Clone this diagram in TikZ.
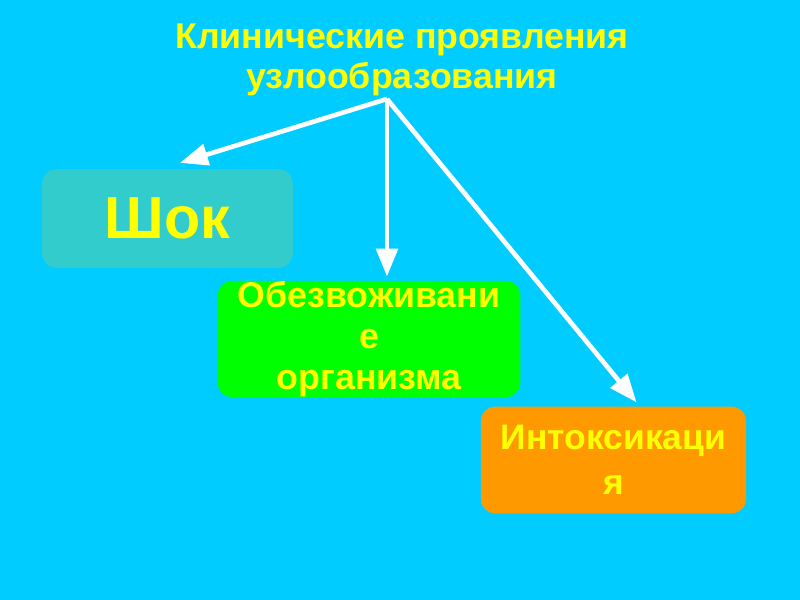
\documentclass[tikz,border=0pt]{standalone}
\usepackage{fontspec}
\setmainfont{Liberation Sans}
\usepackage{xcolor}
\usetikzlibrary{arrows.meta, positioning}

\definecolor{skyback}{RGB}{0,204,255}
\definecolor{titleyellow}{RGB}{255,255,0}
\definecolor{shockfill}{RGB}{51,204,204}
\definecolor{waterfill}{RGB}{0,255,0}
\definecolor{toxfill}{RGB}{255,153,0}

\begin{document}
\begin{tikzpicture}[
    x=0.75pt, y=-0.75pt,
    font=\bfseries,
    title/.style={
      text=titleyellow,
      align=center,
      font=\fontsize{26.8pt}{30pt}\selectfont\bfseries,
      inner sep=0pt
    },
    sign/.style={
      rounded corners=11pt,
      text=titleyellow,
      align=center,
      inner sep=0pt
    },
    arrow/.style={
      -{Triangle[length=21pt, width=16pt, fill=white]},
      line width=3.5pt,
      draw=white
    }
  ]

    % Background
    \fill[skyback] (0,0) rectangle (800,600);
    \useasboundingbox (0,0) rectangle (800,600);

    % Title and branch point
    \node[title] (heading) at (402,60) {Клинические проявления\\узлообразования};
    \coordinate (hub) at (387,99);

    % Manifestations
    \node[sign, fill=shockfill, minimum width=188pt, minimum height=74pt,
      font=\fontsize{44.5pt}{50pt}\selectfont\bfseries] (shock) at (167.5,218.5) {Шок};
    \node[sign, fill=waterfill, minimum width=227pt, minimum height=82pt,
      font=\fontsize{26.8pt}{31pt}\selectfont\bfseries] (dehydr) at (369,339) {Обезвоживани\\е\\ организма};
    \node[sign, fill=toxfill, minimum width=199pt, minimum height=80pt,
      font=\fontsize{26.6pt}{34pt}\selectfont\bfseries] (intox) at (613.5,460) {Интоксикаци\\я};

    % Arrows from the title
    \draw[arrow] (hub) -- ([shift={(138,-6)}]shock.north west);
    \draw[arrow] (hub) -- ([shift={(18,-4)}]dehydr.north);
    \draw[arrow] (hub) -- ([shift={(156,-4)}]intox.north west);

  \end{tikzpicture}
\end{document}
